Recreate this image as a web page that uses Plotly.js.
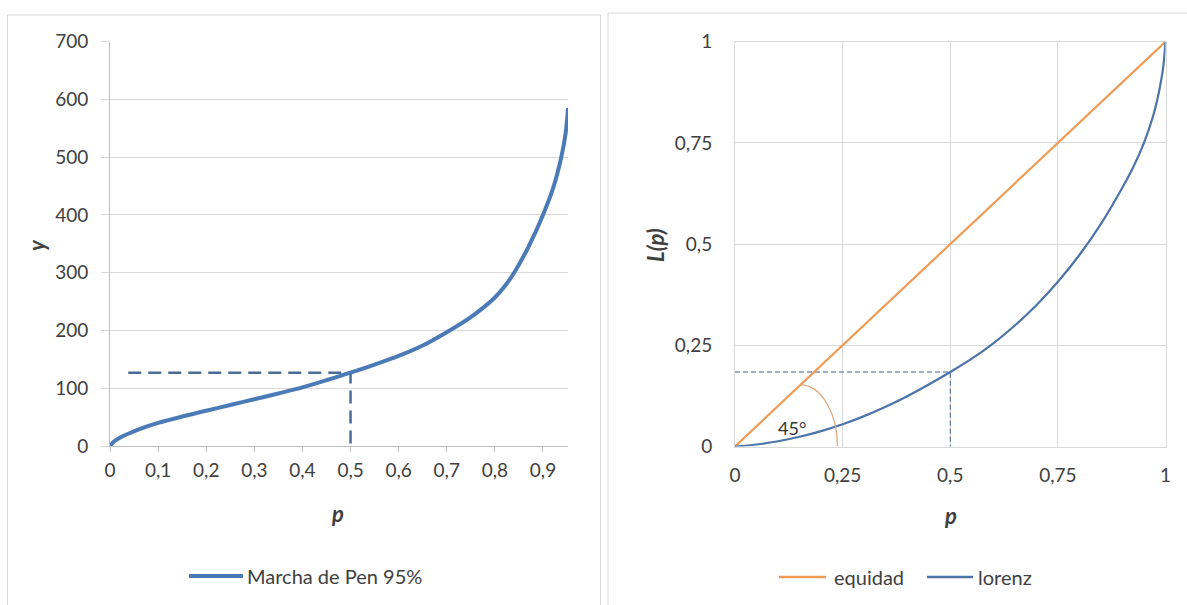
<!DOCTYPE html>
<html>
<head>
<meta charset="utf-8">
<script src="https://cdn.plot.ly/plotly-3.0.1.min.js"></script>
<style>
  html, body { margin: 0; padding: 0; background: #ffffff; }
  #chart { width: 1187px; height: 605px; }
</style>
</head>
<body>
<div id="chart"></div>
<script>
// Marcha de Pen (desfile de Pen) hasta el percentil 95
const penP = [0, 0.005, 0.012, 0.026, 0.046, 0.067, 0.1, 0.15, 0.2, 0.25, 0.3, 0.35, 0.4, 0.45, 0.5,
              0.55, 0.6, 0.65, 0.7, 0.75, 0.8, 0.82, 0.84, 0.87, 0.9, 0.922, 0.938, 0.947, 0.952];
const penY = [0, 5, 10, 17, 24, 31, 40, 51, 61, 71, 81, 91, 101.5, 114, 127,
              141, 156, 174, 197, 223, 257, 276, 300, 345, 400, 449, 500, 541, 585];

// Curva de Lorenz y recta de equidad
const lorenzP = [0, 0.05, 0.1, 0.15, 0.2, 0.25, 0.3, 0.35, 0.4, 0.45, 0.5, 0.55, 0.6, 0.65, 0.7,
                 0.75, 0.8, 0.85, 0.9, 0.925, 0.95, 0.97, 0.98, 0.99, 0.995, 1];
const lorenzL = [0, 0.005, 0.013, 0.024, 0.038, 0.055, 0.075, 0.098, 0.124, 0.153, 0.184, 0.217, 0.255, 0.299, 0.349,
                 0.407, 0.473, 0.550, 0.640, 0.690, 0.750, 0.812, 0.852, 0.905, 0.94, 1];
const equidadP = [0, 1];
const equidadL = [0, 1];

// Mediana marcada con líneas de referencia
const medianP = 0.5;
const medianY = 127;
const medianL = 0.184;
const guideStartP = 0.038;

// Ejes
const leftXTicks = [0, 0.1, 0.2, 0.3, 0.4, 0.5, 0.6, 0.7, 0.8, 0.9];
const leftXLabels = ['0', '0,1', '0,2', '0,3', '0,4', '0,5', '0,6', '0,7', '0,8', '0,9'];
const leftYTicks = [0, 100, 200, 300, 400, 500, 600, 700];
const rightTicks = [0, 0.25, 0.5, 0.75, 1];
const rightLabels = ['0', '0,25', '0,5', '0,75', '1'];

const W = 1187, H = 605;
const px = x => x / W;
const py = y => 1 - y / H;

const FONT = 'Lato, "Open Sans", sans-serif';
const TXT = '#404040';
const BLUE_PEN = '#4A7BB7';
const ORANGE = '#EF9A55';
const BLUE_LZ = '#4C74A8';
const GRID = '#D9D9D9';
const AXIS = '#BFBFBF';

const traces = [
  {
    x: [guideStartP, medianP, medianP], y: [medianY, medianY, 0],
    xaxis: 'x', yaxis: 'y', mode: 'lines', hoverinfo: 'skip',
    line: { color: '#4A6D98', width: 2.5, dash: '13px,7px' }
  },
  {
    x: penP, y: penY, xaxis: 'x', yaxis: 'y', mode: 'lines', name: 'Marcha de Pen 95%',
    line: { color: BLUE_PEN, width: 4, shape: 'spline', smoothing: 1 }
  },
  {
    x: [0, medianP, medianP], y: [medianL, medianL, 0],
    xaxis: 'x2', yaxis: 'y2', mode: 'lines', hoverinfo: 'skip',
    line: { color: '#3F5F8F', width: 1, dash: '5px,3px' }
  },
  {
    x: equidadP, y: equidadL, xaxis: 'x2', yaxis: 'y2', mode: 'lines', name: 'equidad',
    line: { color: ORANGE, width: 2.2 }
  },
  {
    x: lorenzP, y: lorenzL, xaxis: 'x2', yaxis: 'y2', mode: 'lines', name: 'lorenz',
    line: { color: BLUE_LZ, width: 2.2, shape: 'spline', smoothing: 1 }
  }
];

const tickFont = { family: FONT, size: 19, color: TXT };
const titleFont = { family: FONT, size: 22, color: TXT };

const layout = {
  width: W, height: H,
  margin: { l: 0, r: 0, t: 0, b: 0 },
  paper_bgcolor: '#ffffff', plot_bgcolor: '#ffffff',
  showlegend: false,
  xaxis: {
    domain: [px(110), px(568)], anchor: 'y',
    range: [0, 0.952], tickvals: leftXTicks, ticktext: leftXLabels,
    showgrid: false, zeroline: false,
    showline: true, linecolor: AXIS, linewidth: 1,
    ticks: 'outside', ticklen: 5, tickcolor: AXIS,
    tickfont: tickFont, ticklabelstandoff: 2, fixedrange: true
  },
  yaxis: {
    domain: [py(446), py(41.7)], anchor: 'x',
    range: [0, 700], tickvals: leftYTicks,
    showgrid: true, gridcolor: GRID, gridwidth: 1, zeroline: false,
    showline: true, linecolor: AXIS, linewidth: 1,
    ticks: 'outside', ticklen: 8, tickcolor: GRID,
    tickfont: tickFont, ticklabelstandoff: 9, fixedrange: true
  },
  xaxis2: {
    domain: [px(735), px(1165.5)], anchor: 'y2',
    range: [0, 1], tickvals: rightTicks, ticktext: rightLabels,
    showgrid: true, gridcolor: GRID, gridwidth: 1, zeroline: false,
    showline: true, mirror: true, linecolor: GRID, linewidth: 1,
    ticks: '', tickfont: tickFont, ticklabelstandoff: 12, fixedrange: true
  },
  yaxis2: {
    domain: [py(446.5), py(41.7)], anchor: 'x2',
    range: [0, 1], tickvals: rightTicks, ticktext: rightLabels,
    showgrid: true, gridcolor: GRID, gridwidth: 1, zeroline: false,
    showline: true, mirror: true, linecolor: GRID, linewidth: 1,
    ticks: '', tickfont: tickFont, ticklabelstandoff: 18, fixedrange: true
  },
  shapes: [
    // marcos de los dos gráficos
    { type: 'rect', xref: 'paper', yref: 'paper', x0: px(7.5), x1: px(600.5), y0: -0.05, y1: py(15),
      line: { color: GRID, width: 1 }, fillcolor: 'rgba(0,0,0,0)', layer: 'below' },
    { type: 'rect', xref: 'paper', yref: 'paper', x0: px(608), x1: 1.05, y0: -0.05, y1: py(13),
      line: { color: GRID, width: 1 }, fillcolor: 'rgba(0,0,0,0)', layer: 'below' },
    // arco del ángulo de 45°
    { type: 'path', xref: 'x2', yref: 'y2',
      path: 'M0.152,0.152 C0.1995,0.152 0.238,0.084 0.238,0',
      line: { color: '#DDA878', width: 1.3 } },
    // leyendas
    { type: 'line', xref: 'paper', yref: 'paper', x0: px(189), x1: px(243), y0: py(576), y1: py(576),
      line: { color: BLUE_PEN, width: 4 } },
    { type: 'line', xref: 'paper', yref: 'paper', x0: px(779), x1: px(826), y0: py(577), y1: py(577),
      line: { color: ORANGE, width: 2.5 } },
    { type: 'line', xref: 'paper', yref: 'paper', x0: px(927), x1: px(973), y0: py(577), y1: py(577),
      line: { color: BLUE_LZ, width: 2.5 } }
  ],
  annotations: [
    { xref: 'paper', yref: 'paper', x: px(36), y: py(245), text: '<b><i>y</i></b>', textangle: -90,
      showarrow: false, font: titleFont, xanchor: 'center', yanchor: 'middle' },
    { xref: 'paper', yref: 'paper', x: px(337), y: py(513), text: '<b><i>p</i></b>',
      showarrow: false, font: titleFont, xanchor: 'center', yanchor: 'middle' },
    { xref: 'paper', yref: 'paper', x: px(655), y: py(245), text: '<b><i>L(p)</i></b>', textangle: -90,
      showarrow: false, font: titleFont, xanchor: 'center', yanchor: 'middle' },
    { xref: 'paper', yref: 'paper', x: px(950), y: py(515), text: '<b><i>p</i></b>',
      showarrow: false, font: titleFont, xanchor: 'center', yanchor: 'middle' },
    { xref: 'x2', yref: 'y2', x: 0.132, y: 0.045, text: '45°', showarrow: false,
      font: { family: FONT, size: 18, color: '#333333' }, xanchor: 'center', yanchor: 'middle' },
    { xref: 'paper', yref: 'paper', x: px(245), y: py(576), text: 'Marcha de Pen 95%', showarrow: false,
      font: { family: FONT, size: 20, color: TXT }, xanchor: 'left', yanchor: 'middle' },
    { xref: 'paper', yref: 'paper', x: px(832), y: py(577), text: 'equidad', showarrow: false,
      font: { family: FONT, size: 20, color: TXT }, xanchor: 'left', yanchor: 'middle' },
    { xref: 'paper', yref: 'paper', x: px(976), y: py(577), text: 'lorenz', showarrow: false,
      font: { family: FONT, size: 20, color: TXT }, xanchor: 'left', yanchor: 'middle' }
  ]
};

Plotly.newPlot('chart', traces, layout, { displayModeBar: false, staticPlot: true });
</script>
</body>
</html>
